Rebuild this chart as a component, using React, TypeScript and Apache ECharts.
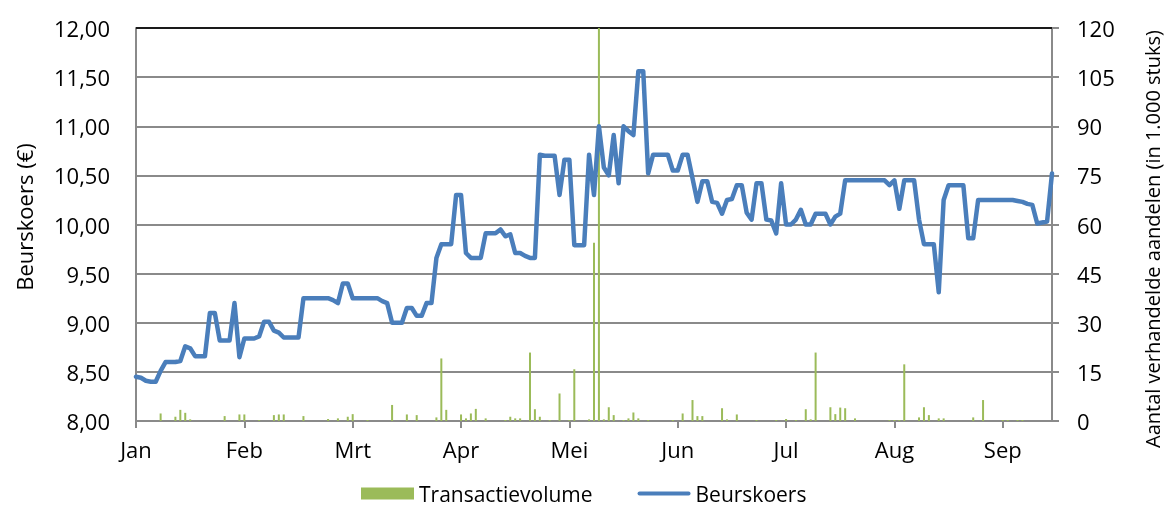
import React, { useEffect, useRef } from 'react';
import * as echarts from 'echarts';

// Month tick labels (one tick every 22 trading days)
const months = ['Jan', 'Feb', 'Mrt', 'Apr', 'Mei', 'Jun', 'Jul', 'Aug', 'Sep'];
const tradingDaysPerTick = 22;

// Share price per trading day (€)
const price = [
  8.45, 8.44, 8.41, 8.40, 8.40, 8.51, 8.60, 8.60, 8.60, 8.61,
  8.76, 8.74, 8.66, 8.66, 8.66, 9.10, 9.10, 8.82, 8.82, 8.82,
  9.20, 8.65, 8.84, 8.84, 8.84, 8.86, 9.01, 9.01, 8.92, 8.90,
  8.85, 8.85, 8.85, 8.85, 9.25, 9.25, 9.25, 9.25, 9.25, 9.25,
  9.23, 9.20, 9.40, 9.40, 9.25, 9.25, 9.25, 9.25, 9.25, 9.25,
  9.22, 9.20, 9.00, 9.00, 9.00, 9.15, 9.15, 9.07, 9.07, 9.20,
  9.20, 9.66, 9.80, 9.80, 9.80, 10.30, 10.30, 9.71, 9.66, 9.66,
  9.66, 9.91, 9.91, 9.91, 9.95, 9.88, 9.90, 9.71, 9.71, 9.68,
  9.66, 9.66, 10.71, 10.70, 10.70, 10.70, 10.30, 10.66, 10.66, 9.79,
  9.79, 9.79, 10.71, 10.30, 11.00, 10.58, 10.50, 10.91, 10.42, 11.00,
  10.95, 10.91, 11.56, 11.56, 10.52, 10.71, 10.71, 10.71, 10.71, 10.55,
  10.55, 10.71, 10.71, 10.47, 10.23, 10.44, 10.44, 10.23, 10.22, 10.11,
  10.25, 10.26, 10.40, 10.40, 10.12, 10.05, 10.42, 10.42, 10.05, 10.04,
  9.91, 10.42, 10.00, 10.00, 10.05, 10.15, 10.00, 10.00, 10.11, 10.11,
  10.11, 10.00, 10.08, 10.11, 10.45, 10.45, 10.45, 10.45, 10.45, 10.45,
  10.45, 10.45, 10.45, 10.40, 10.45, 10.16, 10.45, 10.45, 10.45, 10.05,
  9.80, 9.80, 9.80, 9.31, 10.25, 10.40, 10.40, 10.40, 10.40, 9.86,
  9.86, 10.25, 10.25, 10.25, 10.25, 10.25, 10.25, 10.25, 10.25, 10.24,
  10.23, 10.21, 10.20, 10.01, 10.02, 10.03, 10.52,
];

// Trading-day index of each volume bar and its volume (x 1.000 shares)
const volumeDay = [
  5, 8, 9, 10, 11, 18, 21, 22, 25, 28, 29, 30, 34, 39, 41, 43, 44, 47, 52, 55,
  57, 61, 62, 63, 66, 67, 68, 69, 71, 75, 76, 77, 78, 80, 81, 82, 84, 86, 88, 89,
  92, 93, 94, 95, 96, 97, 99, 100, 101, 102, 104, 109, 111, 113, 114, 115, 119, 120, 122, 126,
  130, 132, 134, 136, 137, 138, 141, 142, 143, 144, 146, 153, 154, 155, 156, 159, 160, 161, 163, 164,
  170, 172, 176, 177, 179, 180,
];
const volumeValue = [
  2.3, 1.3, 3.4, 2.5, 0.5, 1.5, 2.0, 2.0, 0.3, 1.8, 2.0, 2.0, 1.5, 0.6, 0.8, 1.3, 2.1, 0.3, 4.9, 2.0,
  1.8, 1.1, 19.1, 3.4, 2.0, 0.8, 2.3, 3.7, 0.8, 0.3, 1.3, 0.8, 0.8, 20.9, 3.6, 1.3, 0.3, 8.4, 0.3, 15.8,
  0.5, 54.4, 135, 0.5, 4.2, 1.8, 0.3, 0.8, 2.6, 0.8, 0.3, 0.3, 2.3, 6.4, 1.5, 1.5, 3.9, 0.5, 2.0, 0.3,
  0.3, 0.6, 0.3, 3.6, 0.5, 20.9, 4.2, 2.1, 4.1, 3.9, 0.8, 0.3, 0.3, 0.3, 17.3, 1.1, 4.2, 1.8, 0.8, 0.8,
  1.1, 6.4, 0.3, 0.3, 0.3, 0.3,
];

const FONT = 'Open Sans';
const GRID_COLOR = '#8a8a8a';
const LINE_COLOR = '#4A7EBB';
const BAR_COLOR = '#9BBB59';

export default function App() {
  const ref = useRef<HTMLDivElement>(null);

  useEffect(() => {
    if (!ref.current) return;
    const chart = echarts.init(ref.current, null, { renderer: 'svg' });
    const n = price.length;
    const categories = price.map((_, i) => String(i));
    const volume: (number | string)[] = new Array(n).fill('-');
    volumeDay.forEach((d, k) => {
      volume[d] = volumeValue[k];
    });

    const labelStyle = { fontFamily: FONT, fontSize: 22, color: '#000' };

    chart.setOption({
      animation: false,
      textStyle: { fontFamily: FONT },
      grid: { left: 136, right: 113, top: 28, bottom: 86, containLabel: false },
      legend: {
        left: 361,
        top: 483,
        padding: 0,
        itemGap: 45,
        itemWidth: 53,
        itemHeight: 12,
        textStyle: { fontFamily: FONT, fontSize: 21, color: '#000', lineHeight: 21 },
        data: [
          { name: 'Transactievolume', icon: 'rect' },
          {
            name: 'Beurskoers',
            icon: 'path://M2,0 L51,0 A2,2 0 0 1 51,4 L2,4 A2,2 0 0 1 2,0 Z',
            itemStyle: { color: LINE_COLOR },
          },
        ],
      },
      xAxis: {
        type: 'category',
        boundaryGap: false,
        data: categories,
        axisLine: { show: true, lineStyle: { color: GRID_COLOR, width: 2 } },
        axisTick: {
          show: true,
          interval: tradingDaysPerTick - 1,
          length: 7,
          lineStyle: { color: GRID_COLOR, width: 2 },
        },
        axisLabel: {
          ...labelStyle,
          interval: tradingDaysPerTick - 1,
          margin: 17,
          formatter: (_v: string, idx: number) => months[Math.round(idx / tradingDaysPerTick)] ?? '',
        },
        splitLine: { show: false },
      },
      yAxis: [
        {
          type: 'value',
          min: 8,
          max: 12,
          interval: 0.5,
          axisLine: { show: true, lineStyle: { color: GRID_COLOR, width: 2 } },
          axisTick: { show: false },
          axisLabel: {
            ...labelStyle,
            margin: 26,
            formatter: (v: number) => v.toFixed(2).replace('.', ','),
          },
          splitLine: { show: true, lineStyle: { color: GRID_COLOR, width: 2 } },
        },
        {
          type: 'value',
          min: 0,
          max: 120,
          interval: 15,
          position: 'right',
          axisLine: { show: true, lineStyle: { color: GRID_COLOR, width: 2 } },
          axisTick: { show: true, length: 7, lineStyle: { color: GRID_COLOR, width: 2 } },
          axisLabel: { ...labelStyle, margin: 25 },
          splitLine: { show: false },
        },
      ],
      series: [
        {
          name: 'Transactievolume',
          type: 'bar',
          yAxisIndex: 1,
          data: volume,
          barWidth: 2,
          itemStyle: { color: BAR_COLOR },
          clip: true,
          z: 2,
        },
        {
          name: 'Beurskoers',
          type: 'line',
          yAxisIndex: 0,
          data: price,
          symbol: 'none',
          showSymbol: false,
          lineStyle: { color: LINE_COLOR, width: 4.5, cap: 'round', join: 'round' },
          itemStyle: { color: LINE_COLOR },
          z: 3,
        },
      ],
      graphic: [
        {
          type: 'line',
          shape: { x1: 136, y1: 28, x2: 1052, y2: 28 },
          style: { stroke: '#1a1a1a', lineWidth: 2 },
          z: 1,
          silent: true,
        },
        {
          type: 'text',
          x: 24,
          y: 217,
          rotation: Math.PI / 2,
          style: {
            text: 'Beurskoers (€)',
            fontFamily: FONT,
            fontSize: 22,
            fill: '#000',
            align: 'center',
            verticalAlign: 'middle',
          },
        },
        {
          type: 'text',
          x: 1152,
          y: 239,
          rotation: Math.PI / 2,
          style: {
            text: 'Aantal verhandelde aandelen (in 1.000 stuks)',
            fontFamily: FONT,
            fontSize: 20,
            fill: '#000',
            align: 'center',
            verticalAlign: 'middle',
          },
        },
      ],
    });

    return () => chart.dispose();
  }, []);

  return (
    <div
      ref={ref}
      style={{ position: 'fixed', left: 0, top: 0, width: 1165, height: 507 }}
    />
  );
}
